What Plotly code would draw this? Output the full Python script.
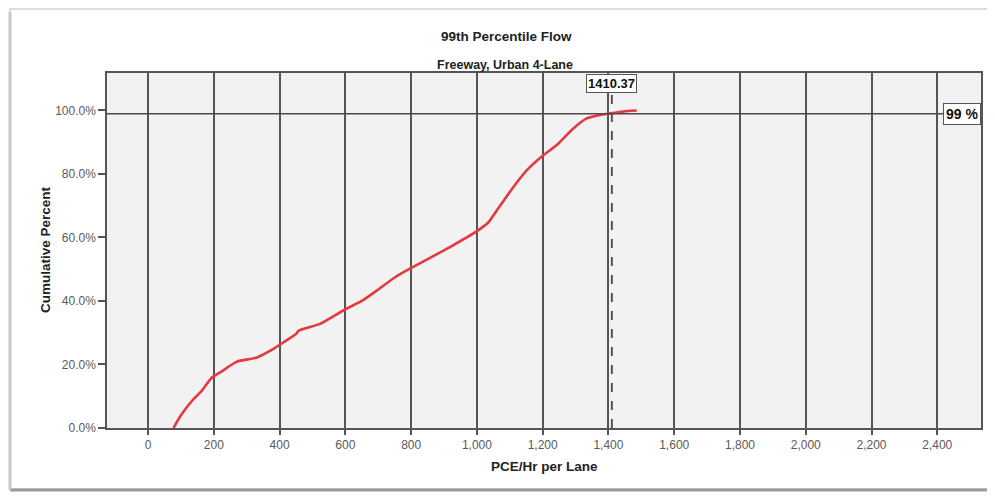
import plotly.graph_objects as go

# Data
flow = [77, 102, 133, 163, 194, 219, 270, 331, 381, 412, 452, 457, 523, 600, 650, 700,
        750, 800, 918, 1000, 1035, 1065, 1111, 1152, 1202, 1243, 1294, 1334, 1375,
        1400, 1446, 1486]
cum_pct = [0, 4.3, 8.5, 11.7, 15.9, 17.5, 20.9, 22.2, 24.9, 27.0, 29.8, 30.6, 32.8, 37.4,
           40.0, 43.6, 47.4, 50.4, 57.0, 62.0, 64.8, 69.2, 75.9, 81.2, 85.9, 89.1,
           94.4, 97.5, 98.6, 99.0, 99.7, 100]
x_ticks = list(range(0, 2401, 200))
y_ticks = [0, 20, 40, 60, 80, 100]
y_tick_labels = ["0.0%", "20.0%", "40.0%", "60.0%", "80.0%", "100.0%"]
p99_value = 1410.37
p99_level = 99

# page geometry (the page body adds an 8px margin around the figure)
OFF = 8
PAGE_W, PAGE_H = 995, 498
W, H = PAGE_W - OFF, PAGE_H - OFF
# plot area in page pixels
L, R, T, B = 107, 981, 73, 428


def px(xp):
    return (xp - L) / (R - L)


def py(yp):
    return (B - yp) / (B - T)


FONT = "Liberation Sans, Arial, sans-serif"
GRID = "#555555"

fig = go.Figure()
fig.add_trace(go.Scatter(
    x=flow, y=cum_pct, mode="lines",
    line=dict(color="#e5383f", width=2.6, shape="spline", smoothing=0.6),
    hoverinfo="x+y", showlegend=False,
))

shapes = [
    # outer frame of the chart
    dict(type="rect", xref="paper", yref="paper", x0=px(10), x1=px(989), y0=py(489), y1=py(9),
         line=dict(color="#d0d0d0", width=1.5), fillcolor="rgba(0,0,0,0)", layer="below"),
    dict(type="line", xref="paper", yref="paper", x0=px(10), x1=px(991), y0=py(490), y1=py(490),
         line=dict(color="#9a9a9a", width=3)),
    dict(type="line", xref="paper", yref="paper", x0=px(10), x1=px(10), y0=py(490), y1=py(12),
         line=dict(color="#c8c8c8", width=3)),
    # 99% reference line
    dict(type="line", xref="paper", yref="y", x0=0, x1=1, y0=p99_level, y1=p99_level,
         line=dict(color="#4a4a4a", width=1.5)),
    # percentile value dashed line
    dict(type="line", xref="x", yref="y", x0=p99_value, x1=p99_value, y0=0, y1=105.5,
         line=dict(color="#555555", width=2, dash="dash")),
]

title_font = dict(family=FONT, color="#222222")
annotations = [
    dict(text="<b>99th Percentile Flow</b>", xref="paper", yref="paper", x=px(506), y=py(37),
         xanchor="center", yanchor="middle", showarrow=False, font=dict(title_font, size=13.5)),
    dict(text="<b>Freeway, Urban 4-Lane</b>", xref="paper", yref="paper", x=px(505), y=py(65),
         xanchor="center", yanchor="middle", showarrow=False, font=dict(title_font, size=12.5)),
    dict(text="<b>Cumulative Percent</b>", xref="paper", yref="paper", x=px(45), y=py(250),
         xanchor="center", yanchor="middle", textangle=-90, showarrow=False,
         font=dict(title_font, size=13.5)),
    dict(text="<b>PCE/Hr per Lane</b>", xref="paper", yref="paper", x=px(544), y=py(466),
         xanchor="center", yanchor="middle", showarrow=False, font=dict(title_font, size=13.5)),
    dict(text="<b>1410.37</b>", x=p99_value, xref="x", yref="paper", y=py(84),
         xanchor="center", yanchor="middle",
         showarrow=False, bgcolor="white", bordercolor="#555555", borderwidth=1, borderpad=1,
         font=dict(family=FONT, size=13, color="#111111")),
    dict(text="<b>99 %</b>", xref="paper", yref="y", x=1, y=p99_level,
         xanchor="right", yanchor="middle",
         showarrow=False, bgcolor="white", bordercolor="#555555", borderwidth=1, borderpad=2,
         font=dict(family=FONT, size=14, color="#111111")),
]

fig.update_layout(
    width=W, height=H,
    margin=dict(l=L - OFF, r=PAGE_W - R, t=T - OFF, b=PAGE_H - B, pad=0),
    paper_bgcolor="white",
    plot_bgcolor="#f2f2f2",
    shapes=shapes,
    annotations=annotations,
    font=dict(family=FONT),
)
fig.update_xaxes(
    range=[-125, 2533], tickmode="array", tickvals=x_ticks, tickformat=",",
    showgrid=True, gridcolor=GRID, gridwidth=1.5, zeroline=False,
    showline=True, linecolor=GRID, linewidth=1.5, mirror=True,
    ticks="outside", ticklen=5, tickcolor=GRID, tickwidth=1.5,
    tickfont=dict(family=FONT, size=12, color="#5a5a5a"),
)
fig.update_yaxes(
    range=[0, 111.8], tickmode="array", tickvals=y_ticks, ticktext=y_tick_labels,
    showgrid=False, zeroline=False,
    showline=True, linecolor=GRID, linewidth=1.5, mirror=True,
    ticks="outside", ticklen=7, tickcolor=GRID, tickwidth=1.5,
    tickfont=dict(family=FONT, size=12, color="#5a5a5a"),
)

fig.write_html("out.html")
